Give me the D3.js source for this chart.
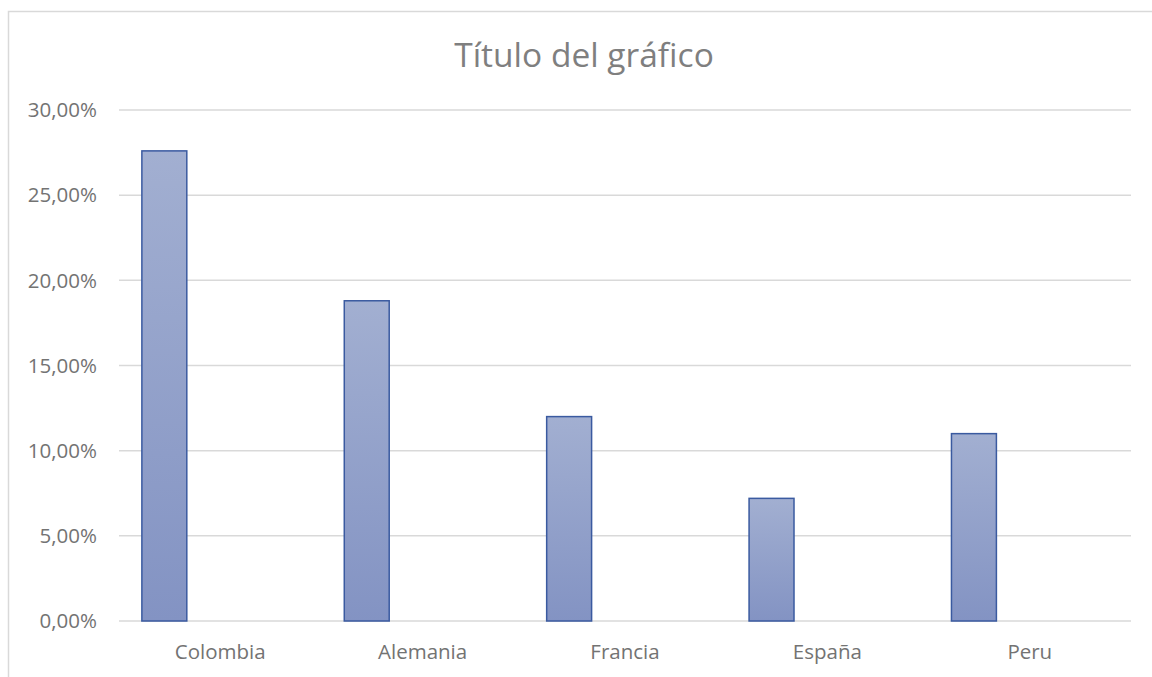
<!DOCTYPE html>
<html><head><meta charset="utf-8">
<script src="https://cdn.jsdelivr.net/npm/d3@7"></script>
<style>html,body{margin:0;padding:0;background:#fff;overflow:hidden}</style>
</head><body><svg id="c" width="1152" height="677"></svg>
<script>
const categories = ["Colombia","Alemania","Francia","España","Peru"];
const values = [0.276, 0.188, 0.12, 0.072, 0.11];
const yTicks = [0, 0.05, 0.10, 0.15, 0.20, 0.25, 0.30];
const title = "Título del gráfico";

const svg = d3.select("#c");
const font = "Open Sans, 'Noto Sans', sans-serif";
const pL = 119, pR = 1131, pT = 110, pB = 621;

svg.append("rect").attr("x",8.5).attr("y",11.5).attr("width",1160).attr("height",700)
  .attr("fill","#fff").attr("stroke","#D9D9D9").attr("stroke-width",1.5);

const defs = svg.append("defs");
const g = defs.append("linearGradient").attr("id","bg").attr("x1",0).attr("y1",0).attr("x2",0).attr("y2",1);
g.append("stop").attr("offset","0%").attr("stop-color","#A2AFD1");
g.append("stop").attr("offset","100%").attr("stop-color","#8393C3");

const x = d3.scaleBand().domain(categories).range([pL,pR]).padding(0);
const y = d3.scaleLinear().domain([0,0.30]).range([pB,pT]);
const fmt = v => d3.format(".2f")(v*100).replace(".",",") + "%";

svg.append("g").selectAll("line").data(yTicks).join("line")
  .attr("x1",pL).attr("x2",pR).attr("y1",d=>y(d)).attr("y2",d=>y(d))
  .attr("stroke","#D9D9D9").attr("stroke-width",1.5);

svg.append("g").selectAll("text").data(yTicks).join("text")
  .attr("x",97).attr("y",d=>y(d)).attr("dy","0.35em").attr("text-anchor","end")
  .attr("font-family",font).attr("font-size",20.5).attr("fill","#737373").text(fmt);

const bw = x.bandwidth();
svg.append("g").selectAll("rect").data(categories).join("rect")
  .attr("x",d=>x(d)+bw*0.113).attr("width",bw*0.222)
  .attr("y",(d,i)=>y(values[i])).attr("height",(d,i)=>y(0)-y(values[i]))
  .attr("fill","url(#bg)").attr("stroke","#3A5AA0").attr("stroke-width",1.5);

svg.append("g").selectAll("text").data(categories).join("text")
  .attr("x",d=>x(d)+bw/2).attr("y",652).attr("dy","0.35em").attr("text-anchor","middle")
  .attr("font-family",font).attr("font-size",20.5).attr("fill","#737373").text(d=>d);

svg.append("text").attr("x",584).attr("y",55).attr("dy","0.35em").attr("text-anchor","middle")
  .attr("font-family",font).attr("font-size",33.5).attr("fill","#7F7F7F").text(title);
</script></body></html>
